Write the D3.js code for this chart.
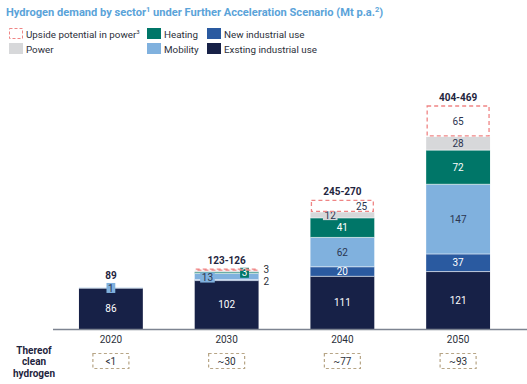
<!DOCTYPE html>
<html>
<head>
<meta charset="utf-8">
<script src="https://cdn.jsdelivr.net/npm/d3@7"></script>
<style>
  body { margin: 0; background: #fff; }
  svg { font-family: Roboto, "Noto Sans", sans-serif; }
</style>
</head>
<body>
<div id="chart"></div>
<script>
// data
var years = ["2020", "2030", "2040", "2050"];
var existing = [86, 102, 111, 121];
var newIndustrial = [0, 2, 20, 37];
var mobility = [1, 13, 62, 147];
var heating = [0, 3, 41, 72];
var power = [0, 3, 12, 28];
var upside = [0, 3, 25, 65];
var totalLabels = ["89", "123-126", "245-270", "404-469"];
var cleanLabels = ["<1", "~30", "~77", "~93"];

var series = [
  { key: "existing", name: "Exsting industrial use", values: existing, color: "#172147", text: "#fff" },
  { key: "newInd", name: "New industrial use", values: newIndustrial, color: "#2a5aa0", text: "#fff" },
  { key: "mobility", name: "Mobility", values: mobility, color: "#80b1de", text: "#2b3550" },
  { key: "heating", name: "Heating", values: heating, color: "#007668", text: "#fff" },
  { key: "power", name: "Power", values: power, color: "#d7d8da", text: "#2b3550" }
];

var width = 527, height = 384;
var svg = d3.select("#chart").append("svg")
  .attr("width", width).attr("height", height);

// タイトル
var title = svg.append("text")
  .attr("x", 6).attr("y", 16)
  .attr("fill", "#5aa3d9")
  .attr("font-size", "11.1px")
  .attr("font-weight", "bold");
title.append("tspan").text("Hydrogen demand by sector");
title.append("tspan").attr("font-size", "7.5px").attr("dy", -4).text("1");
title.append("tspan").attr("dy", 4).text(" under Further Acceleration Scenario (Mt p.a.");
title.append("tspan").attr("font-size", "7.5px").attr("dy", -4).text("2");
title.append("tspan").attr("dy", 4).text(")");

// 凡例
var legendItems = [
  { name: "Upside potential in power", sup: "3", x: 9, y: 28, dashed: true },
  { name: "Heating", x: 147, y: 28, color: "#007668" },
  { name: "New industrial use", x: 207, y: 28, color: "#2a5aa0" },
  { name: "Power", x: 9, y: 43, color: "#d7d8da" },
  { name: "Mobility", x: 147, y: 43, color: "#80b1de" },
  { name: "Exsting industrial use", x: 207, y: 43, color: "#172147" }
];
var lg = svg.selectAll(".legend").data(legendItems).enter()
  .append("g").attr("class", "legend")
  .attr("transform", function(d) { return "translate(" + d.x + "," + d.y + ")"; });
lg.append("rect")
  .attr("x", function(d) { return d.dashed ? 0.5 : 0; })
  .attr("y", function(d) { return d.dashed ? 0.5 : 0; })
  .attr("width", function(d) { return d.dashed ? 13 : 14; })
  .attr("height", function(d) { return d.dashed ? 10 : 11; })
  .attr("fill", function(d) { return d.dashed ? "#fff" : d.color; })
  .attr("stroke", function(d) { return d.dashed ? "#ef8585" : "none"; })
  .attr("stroke-dasharray", "3,2");
var lt = lg.append("text")
  .attr("x", 17).attr("y", 9.5)
  .attr("font-size", "9.8px")
  .attr("fill", "#2b2f3a");
lt.append("tspan").text(function(d) { return d.name; });
lt.append("tspan").attr("font-size", "6px").attr("dy", -4).text(function(d) { return d.sup || ""; });

// スケール
var x = d3.scaleBand().domain(years).range([55.8, 513.2]).paddingInner(0.448).paddingOuter(0.2);
var y = d3.scaleLinear().domain([0, 470]).range([329, 106]);

// stack
var table = years.map(function(yr, i) {
  var row = { year: yr };
  series.forEach(function(s) { row[s.key] = s.values[i]; });
  return row;
});
var stack = d3.stack().keys(series.map(function(s) { return s.key; }));
var stacked = stack(table);

var layers = svg.selectAll(".layer").data(stacked).enter()
  .append("g").attr("class", "layer")
  .attr("fill", function(d, i) { return series[i].color; });
layers.selectAll("rect").data(function(d) { return d; }).enter()
  .append("rect")
  .attr("x", function(d) { return x(d.data.year); })
  .attr("width", x.bandwidth())
  .attr("y", function(d) { return y(d[1]); })
  .attr("height", function(d) { return y(d[0]) - y(d[1]); });

// 薄い区切り線
layers.selectAll("line").data(function(d) { return d; }).enter()
  .filter(function(d) { return d[1] - d[0] > 0 && d[0] > 0; })
  .append("line")
  .attr("x1", function(d) { return x(d.data.year); })
  .attr("x2", function(d) { return x(d.data.year) + x.bandwidth(); })
  .attr("y1", function(d) { return y(d[0]); })
  .attr("y2", function(d) { return y(d[0]); })
  .attr("stroke", "#fff").attr("stroke-width", 0.6);

// 値ラベル（大きいセグメント）
stacked.forEach(function(layer, si) {
  layer.forEach(function(d, i) {
    var h = y(d[0]) - y(d[1]);
    if (h >= 9) {
      svg.append("text")
        .attr("x", x(d.data.year) + x.bandwidth() / 2)
        .attr("y", (y(d[0]) + y(d[1])) / 2 + 3.6)
        .attr("text-anchor", "middle")
        .attr("font-size", "10px")
        .attr("fill", series[si].text)
        .text(series[si].values[i]);
    }
  });
});

// 小さいセグメントのラベル（ボックス付き）
var smallLabels = [
  { yi: 0, key: "mobility", dx: 0.5, dy: 0 },
  { yi: 1, key: "mobility", dx: 0.2, dy: 1 },
  { yi: 1, key: "heating", dx: 0.78, dy: 0 },
  { yi: 2, key: "power", dx: 0.31, dy: 0 }
];
smallLabels.forEach(function(sl) {
  var si = series.findIndex(function(s) { return s.key === sl.key; });
  var d = stacked[si][sl.yi];
  var cx = x(years[sl.yi]) + x.bandwidth() * sl.dx;
  var cy = (y(d[0]) + y(d[1])) / 2 + sl.dy;
  var txt = String(series[si].values[sl.yi]);
  var w = txt.length * 5.8 + 3;
  svg.append("rect")
    .attr("x", cx - w / 2).attr("y", cy - 5)
    .attr("width", w).attr("height", 10)
    .attr("fill", series[si].color);
  svg.append("text")
    .attr("x", cx).attr("y", cy + 3.6)
    .attr("text-anchor", "middle")
    .attr("font-size", "10px")
    .attr("fill", series[si].text)
    .text(txt);
});

// 2030 側ラベル
var total = years.map(function(yr, i) {
  return d3.sum(series, function(s) { return s.values[i]; });
});
svg.append("text")
  .attr("x", x("2030") + x.bandwidth() + 5)
  .attr("y", y(total[1] + upside[1] / 2) + 3.5)
  .attr("font-size", "10px").attr("fill", "#2b2f3a")
  .text(upside[1]);
svg.append("text")
  .attr("x", x("2030") + x.bandwidth() + 5)
  .attr("y", y(existing[1] + newIndustrial[1] / 2) + 5)
  .attr("font-size", "10px").attr("fill", "#2b2f3a")
  .text(newIndustrial[1]);

// アップサイド（破線ボックス）
years.forEach(function(yr, i) {
  if (!upside[i]) return;
  var top = y(total[i] + upside[i]), bot = y(total[i]);
  svg.append("rect")
    .attr("x", x(yr) + 1).attr("y", top)
    .attr("width", x.bandwidth() - 2).attr("height", Math.max(bot - top - 1, 1))
    .attr("fill", "#fff")
    .attr("fill-opacity", bot - top > 6 ? 1 : 0)
    .attr("stroke", "#ef8585").attr("stroke-width", 1.3)
    .attr("stroke-dasharray", "4,3");
  if (bot - top > 9) {
    svg.append("text")
      .attr("x", yr === "2040" ? x(yr) + x.bandwidth() * 0.8 : x(yr) + x.bandwidth() / 2)
      .attr("y", (top + bot) / 2 + 3.6)
      .attr("text-anchor", "middle")
      .attr("font-size", "10px").attr("fill", "#2b3550")
      .text(upside[i]);
  }
});

// 合計ラベル
svg.selectAll(".total").data(years).enter()
  .append("text")
  .attr("x", function(d) { return x(d) + x.bandwidth() / 2; })
  .attr("y", function(d, i) { return y(total[i] + upside[i]) - (upside[i] ? 5 : 9); })
  .attr("text-anchor", "middle")
  .attr("font-size", "10px").attr("font-weight", "bold")
  .attr("fill", "#1f2540")
  .text(function(d, i) { return totalLabels[i]; });

// 軸
svg.append("line")
  .attr("x1", 53).attr("x2", 527)
  .attr("y1", 329.5).attr("y2", 329.5)
  .attr("stroke", "#7d8491").attr("stroke-width", 1.5);
svg.selectAll(".year").data(years).enter()
  .append("text")
  .attr("x", function(d) { return x(d) + x.bandwidth() / 2; })
  .attr("y", 343)
  .attr("text-anchor", "middle")
  .attr("font-size", "10px").attr("fill", "#2b2f3a")
  .text(function(d) { return d; });

// Thereof clean hydrogen
var th = svg.append("text")
  .attr("x", 34).attr("text-anchor", "middle")
  .attr("font-size", "10px").attr("font-weight", "bold").attr("fill", "#1f2540");
["Thereof", "clean", "hydrogen"].forEach(function(t, i) {
  th.append("tspan").attr("x", 34).attr("y", 353.5 + i * 11.8).text(t);
});
var cb = svg.selectAll(".clean").data(years).enter().append("g");
cb.append("rect")
  .attr("x", function(d) { return x(d) + x.bandwidth() / 2 - 18; })
  .attr("y", 353.5).attr("width", 36).attr("height", 15)
  .attr("fill", "none").attr("stroke", "#b7a586").attr("stroke-width", 1.2)
  .attr("stroke-dasharray", "3,2.5");
cb.append("text")
  .attr("x", function(d) { return x(d) + x.bandwidth() / 2; })
  .attr("y", 364.5)
  .attr("text-anchor", "middle")
  .attr("font-size", "10px").attr("fill", "#2b2f3a")
  .text(function(d, i) { return cleanLabels[i]; });
</script>
</body>
</html>
